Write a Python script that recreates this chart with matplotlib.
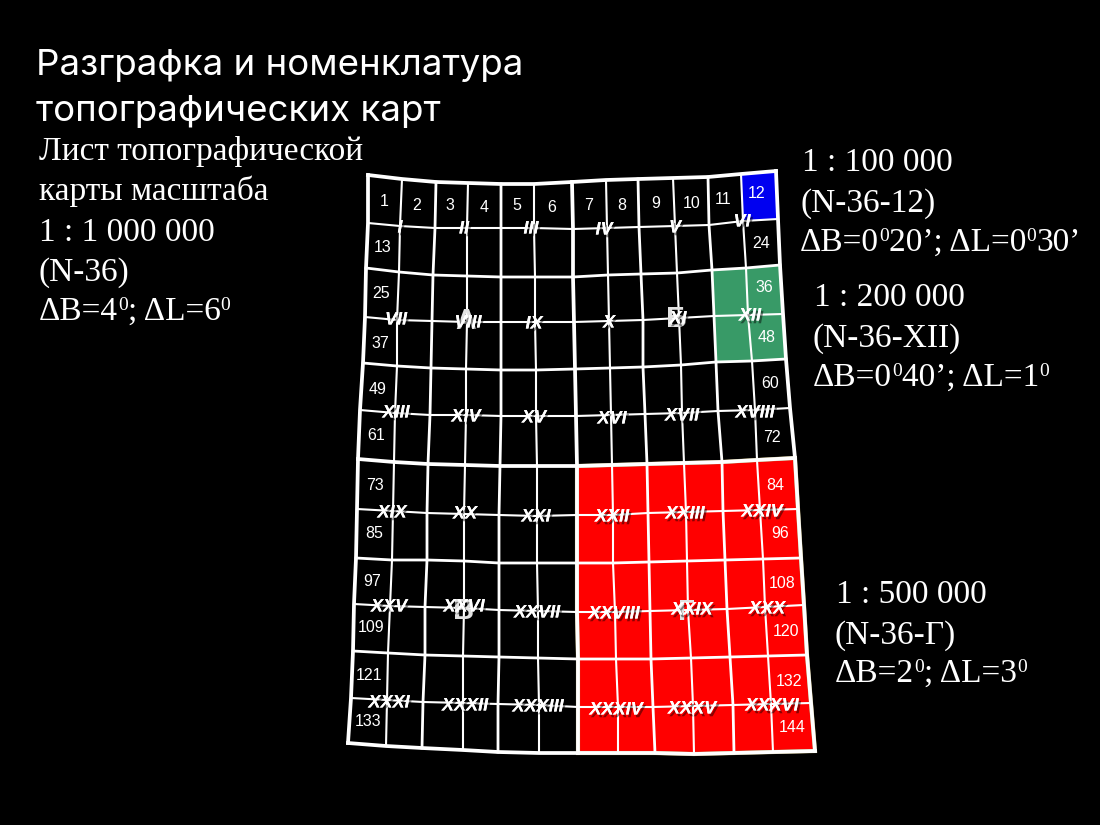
import matplotlib
matplotlib.use("Agg")
import matplotlib.pyplot as plt
import matplotlib.patheffects as pe
import numpy as np

# grid nodes (13 parallels x 13 meridians)
grid_x = [
    [368, 402, 436, 468, 501, 534, 572, 606, 638, 673, 708, 741, 776],
    [368, 400, 435, 467, 501, 534, 573, 607, 639, 675, 709, 743, 778],
    [366, 399, 433, 467, 501, 535, 573, 608, 641, 677, 712, 746, 780],
    [365, 397, 432, 467, 501, 535, 574, 609, 643, 679, 714, 748, 783],
    [363, 397, 431, 466, 501, 536, 575, 610, 643, 681, 716, 752, 786],
    [360, 395, 430, 466, 501, 536, 576, 611, 645, 682, 718, 755, 790],
    [358, 394, 428, 465, 500, 537, 577, 612, 647, 684, 722, 757, 795],
    [357, 393, 427, 464, 499, 537, 577, 613, 648, 686, 723, 760, 798],
    [356, 392, 427, 464, 499, 537, 577, 613, 649, 687, 725, 763, 801],
    [354, 390, 425, 464, 499, 538, 577, 615, 650, 688, 727, 765, 804],
    [353, 388, 425, 463, 499, 538, 578, 616, 651, 691, 730, 768, 807],
    [351, 387, 423, 463, 498, 539, 578, 618, 653, 693, 733, 771, 811],
    [348, 386, 422, 463, 498, 539, 578, 618, 655, 694, 734, 773, 815],
]
grid_y = [
    [175, 179, 182, 183, 184, 184, 182, 180, 179, 178, 177, 174, 171],
    [223, 226, 228, 228, 228, 228, 229, 228, 227, 226, 225, 221, 219],
    [268, 272, 275, 276, 277, 277, 277, 275, 274, 273, 270, 268, 265],
    [317, 320, 321, 322, 322, 322, 322, 321, 320, 318, 316, 315, 314],
    [363, 366, 368, 369, 370, 370, 369, 368, 367, 365, 362, 361, 359],
    [410, 413, 415, 415, 416, 416, 416, 415, 414, 413, 411, 410, 408],
    [459, 462, 464, 465, 466, 466, 466, 465, 464, 463, 462, 460, 458],
    [509, 511, 513, 514, 515, 516, 515, 515, 513, 512, 511, 510, 509],
    [558, 560, 560, 561, 563, 563, 563, 563, 562, 561, 560, 559, 558],
    [604, 606, 607, 608, 610, 611, 612, 612, 611, 610, 609, 607, 605],
    [651, 653, 655, 656, 657, 658, 659, 659, 659, 658, 657, 656, 655],
    [698, 700, 702, 703, 704, 705, 707, 707, 707, 706, 705, 704, 703],
    [743, 746, 748, 750, 752, 753, 753, 753, 753, 754, 753, 752, 751],
]

number_labels = ["1","2","3","4","5","6","7","8","9","10","11","12","13","24","25","36","37","48",
                 "49","60","61","72","73","84","85","96","97","108","109","120","121","132","133","144"]
number_x = [384,417,450,484,517,552,589,622,656,692,723,757,383,761,381,764,380,767,
            378,770,376,772,375,775,374,780,372,782,371,786,369,789,368,792]
number_y = [201,205,206,207,206,208,206,205,203,203,199,194,248,243,294,288,343,338,
            390,384,436,437,485,485,534,534,582,583,628,631,676,681,721,727]

roman_labels = ["I","II","III","IV","V","VI","VII","VIII","IX","X","XI","XII",
                "XIII","XIV","XV","XVI","XVII","XVIII","XIX","XX","XXI","XXII","XXIII","XXIV",
                "XXV","XXVI","XXVII","XXVIII","XXIX","XXX","XXXI","XXXII","XXXIII","XXXIV","XXXV","XXXVI"]
roman_x = [400,464,531,604,675,742,396,468,534,609,678,750,
           396,466,534,612,682,755,392,465,536,612,685,762,
           389,464,537,614,692,767,389,465,538,616,692,772]
roman_y = [228,229,229,230,228,222,320,323,324,323,319,316,
           413,417,418,419,416,413,513,514,517,517,514,512,
           607,607,613,614,610,609,703,706,707,710,709,706]

sheet_labels = ["А","Б","В","Г"]
sheet_x = [466,677,464,686]
sheet_y = [321,319,611,612]

title_lines = ["Разграфка и номенклатура", "топографических карт"]

# (left x, baseline y, runs of (text, is_superscript))
note_blocks = [
    (39, 160, [("Лист топографической",0)]),
    (39, 200, [("карты масштаба",0)]),
    (39, 241, [("1 : 1 000 000",0)]),
    (39, 281, [("(N-36)",0)]),
    (39, 320, [("ΔB=4",0),("0",1),("; ΔL=6",0),("0",1)]),
    (802, 171, [("1 : 100 000",0)]),
    (801, 212, [("(N-36-12)",0)]),
    (800, 251, [("ΔB=0",0),("0",1),("20’; ΔL=0",0),("0",1),("30’",0)]),
    (814, 306, [("1 : 200 000",0)]),
    (813, 347, [("(N-36-XII)",0)]),
    (813, 386, [("ΔB=0",0),("0",1),("40’; ΔL=1",0),("0",1)]),
    (836, 603, [("1 : 500 000",0)]),
    (835, 644, [("(N-36-Г)",0)]),
    (835, 682, [("ΔB=2",0),("0",1),("; ΔL=3",0),("0",1)]),
]

X = np.array(grid_x, dtype=float)
Y = np.array(grid_y, dtype=float)

fig = plt.figure(figsize=(11, 8.25), dpi=100, facecolor="black")
ax = fig.add_axes([0, 0, 1, 1])
ax.set_xlim(0, 1100)
ax.set_ylim(825, 0)
ax.axis("off")

def block_outline(r0, r1, c0, c1):
    xs = list(X[r0, c0:c1+1]) + list(X[r0:r1+1, c1]) + list(X[r1, c0:c1+1][::-1]) + list(X[r0:r1+1, c0][::-1])
    ys = list(Y[r0, c0:c1+1]) + list(Y[r0:r1+1, c1]) + list(Y[r1, c0:c1+1][::-1]) + list(Y[r0:r1+1, c0][::-1])
    return xs, ys

xs, ys = block_outline(0, 1, 11, 12)
ax.fill(xs, ys, facecolor="#0000f0", edgecolor="none", zorder=1)
xs, ys = block_outline(2, 4, 10, 12)
ax.fill(xs, ys, facecolor="#389a67", edgecolor="none", zorder=1)
xs, ys = block_outline(6, 12, 6, 12)
ax.fill(xs, ys, facecolor="#ff0000", edgecolor="#a89a60", linewidth=3.0, zorder=1)

def width_for(i):
    if i % 6 == 0:
        return 2.7
    return 2.0 if i % 2 == 0 else 1.5

for r in range(13):
    ax.plot(X[r], Y[r], color="white", lw=width_for(r), solid_joinstyle="miter",
            solid_capstyle="projecting", zorder=2)
for c in range(13):
    ax.plot(X[:, c], Y[:, c], color="white", lw=width_for(c), solid_joinstyle="miter",
            solid_capstyle="projecting", zorder=2)

for t, x, y in zip(number_labels, number_x, number_y):
    ax.text(x, y, t, color="white", fontsize=11.5, family="Liberation Sans",
            ha="center", va="center", zorder=3)

for t, x, y in zip(sheet_labels, sheet_x, sheet_y):
    ax.text(x, y, t, color="#e2e2e2", fontsize=21, family="Liberation Sans", fontweight="bold",
            ha="center", va="center", zorder=3)

shadow = [pe.withSimplePatchShadow(offset=(1.5, -2), shadow_rgbFace="black", alpha=0.45), pe.Normal()]
for t, x, y in zip(roman_labels, roman_x, roman_y):
    ax.text(x, y, t, color="white", fontsize=13, family="Liberation Sans", fontweight="bold",
            style="italic", ha="center", va="center", zorder=4, path_effects=shadow)

for t, y in zip(title_lines, [66, 111]):
    ax.text(36, y, t, color="white", fontsize=26.4, family="Inter", ha="left", va="center", zorder=5)

renderer = fig.canvas.get_renderer()
for x0, base, runs in note_blocks:
    x = x0
    for txt, sup in runs:
        if sup:
            a = ax.text(x, base - 10, txt, color="white", fontsize=14,
                        family="Liberation Serif", ha="left", va="baseline", zorder=5)
            x += a.get_window_extent(renderer).width
        else:
            a = ax.text(x, base, txt, color="white", fontsize=24,
                        family="Liberation Serif", ha="left", va="baseline", zorder=5)
            x += a.get_window_extent(renderer).width
fig.savefig("out.png", dpi=100, facecolor="black")
